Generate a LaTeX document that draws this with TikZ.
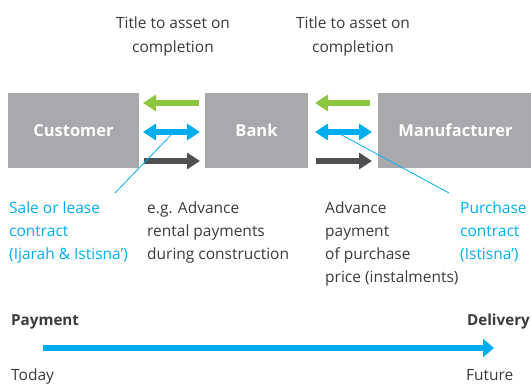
\documentclass[tikz,border=0pt]{standalone}
\usepackage{fontspec}
\setmainfont{Open Sans}
\usetikzlibrary{arrows.meta}
\definecolor{boxgray}{HTML}{A7A9AC}
\definecolor{cblue}{HTML}{00AEEF}
\definecolor{cgreen}{HTML}{8DC63F}
\definecolor{cdark}{HTML}{4D4F53}
\definecolor{ctext}{HTML}{3A3A3A}
\tikzset{
  party/.style={fill=boxgray, draw=none, text=white, font=\fontsize{16.5}{19}\selectfont\bfseries, inner sep=0},
  body/.style={anchor=base west, inner sep=0, align=left, text=ctext, font=\fontsize{15.5}{22.7}\selectfont},
  bluetext/.style={body, text=cblue},
  titletext/.style={anchor=base, inner sep=0, align=center, text=ctext, font=\fontsize{15.5}{23.5}\selectfont},
  flow/.style={line width=5.5pt, -{Triangle[length=13pt,width=16pt]}},
  dflow/.style={line width=5.5pt, {Triangle[length=13pt,width=16pt]}-{Triangle[length=13pt,width=16pt]}},
  leader/.style={draw=cblue, line width=0.8pt},
  timeline/.style={draw=cblue, line width=6pt, -{Triangle[length=11pt,width=18pt]}},
  boldlab/.style={inner sep=0, text=ctext, font=\fontsize{15.2}{18}\selectfont\bfseries},
  plainlab/.style={inner sep=0, text=ctext, font=\fontsize{15.5}{18}\selectfont},
}
\begin{document}
\begin{tikzpicture}[x=1pt,y=-1pt]
\useasboundingbox (0,0) rectangle (531,385);
% boxes
\node[party, minimum width=131pt, minimum height=75pt] (cust) at (73.5,130.5) {Customer};
\node[party, minimum width=103pt, minimum height=75pt] (bank) at (256.5,130.5) {Bank};
\node[party, minimum width=155pt, minimum height=75pt] (manu) at (455.5,130.5) {Manufacturer};
% left arrows
\coordinate (lg1) at (143,103); \coordinate (lg2) at (199,103);
\coordinate (lb1) at (143,132); \coordinate (lb2) at (200,132);
\coordinate (ld1) at (144,161); \coordinate (ld2) at (200,161);
\draw[flow, draw=cgreen] (lg2) -- (lg1);
\draw[dflow, draw=cblue] (lb1) -- (lb2);
\draw[flow, draw=cdark] (ld1) -- (ld2);
% right arrows
\coordinate (rg1) at (315,103); \coordinate (rg2) at (370,103);
\coordinate (rb1) at (315,132); \coordinate (rb2) at (372,132);
\coordinate (rd1) at (316,161); \coordinate (rd2) at (372,161);
\draw[flow, draw=cgreen] (rg2) -- (rg1);
\draw[dflow, draw=cblue] (rb1) -- (rb2);
\draw[flow, draw=cdark] (rd1) -- (rd2);
% titles (base anchor = baseline of last line)
\node[titletext] (t1) at (173,52.5) {Title to asset on\\completion};
\node[titletext] (t2) at (353,52.5) {Title to asset on\\completion};
% lower texts (base anchor = baseline of last line)
\node[bluetext] (sale) at (9,259.4) {Sale or lease\\contract\\(Ijarah \& Istisna’)};
\node[body] (eg) at (147,259.4) {e.g. Advance\\rental payments\\during construction};
\node[body] (adv) at (325,282.1) {Advance\\payment\\of purchase\\price (instalments)};
\node[bluetext] (purch) at (460,259.4) {Purchase\\contract\\(Istisna’)};
% leaders
\coordinate (la) at (172,134); \coordinate (lz) at (115,193);
\coordinate (ra) at (340,134); \coordinate (rz) at (449,193);
\draw[leader] (la) -- (lz);
\draw[leader] (ra) -- (rz);
% timeline
\node[boldlab, anchor=base west] (pay) at (11,326) {Payment};
\node[boldlab, anchor=base east] (del) at (530,326) {Delivery};
\coordinate (tl1) at (43,348); \coordinate (tl2) at (494,348);
\draw[timeline] (tl1) -- (tl2);
\node[plainlab, anchor=base west] (today) at (11,380.5) {Today};
\node[plainlab, anchor=base west] (fut) at (466,380.5) {Future};
\end{tikzpicture}
\end{document}
